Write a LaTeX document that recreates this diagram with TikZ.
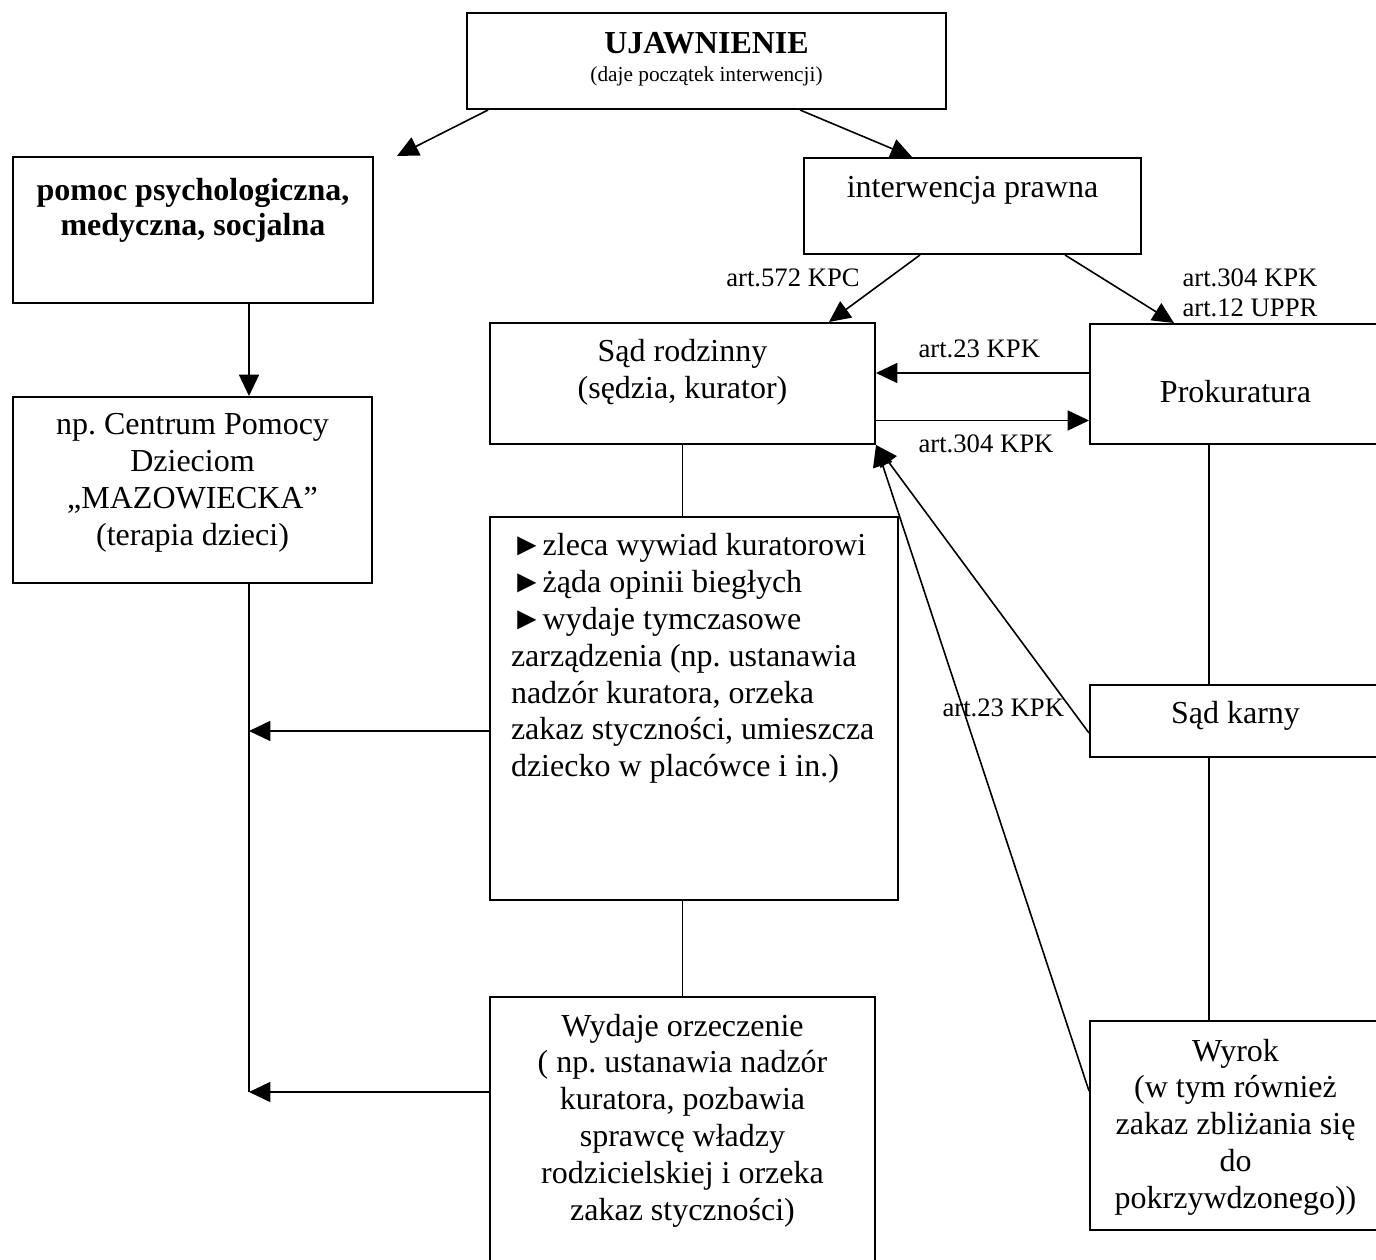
\documentclass[tikz,border=0pt]{standalone}
\usepackage{fontspec}
\setmainfont{Liberation Serif}
\usetikzlibrary{arrows.meta,calc}
\frenchspacing

\begin{document}
\begin{tikzpicture}[x=0.375pt, y=-0.375pt,
    box/.style={rectangle, draw, line width=0.75pt, anchor=north west, inner xsep=0pt, inner ysep=0pt, align=flush center, font=\fontsize{12}{13.8}\selectfont},
    lbl/.style={font=\fontsize{10}{11.5}\selectfont, inner sep=0pt, anchor=base west},
    ar/.style={line width=0.6pt, -{Triangle[length=8pt,width=7.5pt]}},
    ln/.style={line width=0.6pt}]
    \useasboundingbox (0,0) rectangle (1376,1260);
    \node [box, text width=179.625pt, text height=15.375pt, text depth=20.625pt] (ujaw) at (466,12)
        {\textbf{UJAWNIENIE}\\[-3.3pt]{\fontsize{8}{9.6}\selectfont (daje początek interwencji)}};
    \node [box, font=\fontsize{12}{13.8}\selectfont\bfseries, text width=135pt, text height=16.5pt, text depth=38.25pt] (pomoc) at (12,156)
        {pomoc psychologiczna,\\[-0.7pt]medyczna, socjalna};
    \node [box, text width=134.625pt, text height=14.25pt, text depth=55.5pt] (centrum) at (12,396)
        {np. Centrum Pomocy\\Dzieciom\\„MAZOWIECKA”\\(terapia dzieci)};
    \node [box, text width=126.375pt, text height=15pt, text depth=21pt] (interw) at (803,157) {interwencja prawna};
    \node [box, text width=144.375pt, text height=14.625pt, text depth=30.75pt] (rodz) at (489,322)
        {Sąd rodzinny\\(sędzia, kurator)};
    \node [box, text width=109.125pt, text height=29.625pt, text depth=15.375pt] (prok) at (1089,323) {Prokuratura};
    \node [box, align=flush left, text width=137.25pt, inner xsep=7.875pt, text height=14.625pt, text depth=129pt] (bull) at (489,516)
        {►zleca wywiad kuratorowi\\►żąda opinii biegłych\\►wydaje tymczasowe\\zarządzenia (np. ustanawia\\nadzór kuratora, orzeka\\zakaz styczności, umieszcza\\dziecko w placówce i in.)};
    \node [box, text width=144.375pt, text height=14.625pt, text depth=91.875pt] (wyd) at (489,996)
        {Wydaje orzeczenie\\( np. ustanawia nadzór\\kuratora, pozbawia\\sprawcę władzy\\rodzicielskiej i orzeka\\zakaz styczności)};
    \node [box, text width=109.125pt, text height=14.625pt, text depth=12.375pt] (karny) at (1089,684) {Sąd karny};
    \node [box, text width=109.125pt, text height=15pt, text depth=63.375pt] (wyrok) at (1089,1020)
        {Wyrok\\(w tym również\\zakaz zbliżania się\\do\\pokrzywdzonego))};

    \node [lbl, anchor=base] (l572) at (793,287) {art.572 KPC};
    \node [lbl] (l304) at (1182,287) {art.304 KPK};
    \node [lbl] (l12) at (1182,317) {art.12 UPPR};
    \node [lbl] (l23a) at (918,358) {art.23 KPK};
    \node [lbl] (l304b) at (918,453) {art.304 KPK};
    \node [lbl] (l23b) at (942,717) {art.23 KPK};

    \draw [ar] ($(ujaw.south west)+(22,0)$) -- ($(pomoc.north east)+(23,0)$);
    \draw [ar] ($(ujaw.south west)+(334,0)$) -- ($(interw.north west)+(109,0)$);
    \draw [ar] ($(interw.south west)+(117,0)$) -- ($(rodz.north west)+(340,0)$);
    \draw [ar] ($(interw.south west)+(262,0)$) -- ($(prok.north west)+(85,0)$);
    \draw [ar] ($(prok.west)+(0,-11)$) coordinate (p23) -- (p23 -| rodz.east);
    \draw [ar] ($(rodz.east)+(0,37)$) coordinate (r304) -- (r304 -| prok.west);
    \draw [ln] (rodz.south) -- (rodz.south |- bull.north);
    \draw [ln] (rodz.south |- bull.south) -- (rodz.south |- wyd.north);
    \draw [ar] ($(pomoc.south west)+(237,0)$) coordinate (pl) -- (pl |- centrum.north);
    \coordinate (cl) at (pl |- centrum.south);
    \draw [ar] ($(bull.west)+(0,22.5)$) coordinate (bl) -- (bl -| cl);
    \draw [ar] ($(wyd.north west)+(0,96)$) coordinate (wl) -- (wl -| cl);
    \draw [ln] (cl) -- (wl -| cl);
    \draw [ln] ($(prok.south west)+(120,0)$) coordinate (pr) -- (pr |- karny.north);
    \draw [ln] (pr |- karny.south) -- (pr |- wyrok.north);
    \draw [ar] ($(karny.west)+(0,12)$) -- (rodz.south east);
    \draw [ar] ($(wyrok.west)+(0,-34.5)$) -- (rodz.south east);
\end{tikzpicture}
\end{document}
